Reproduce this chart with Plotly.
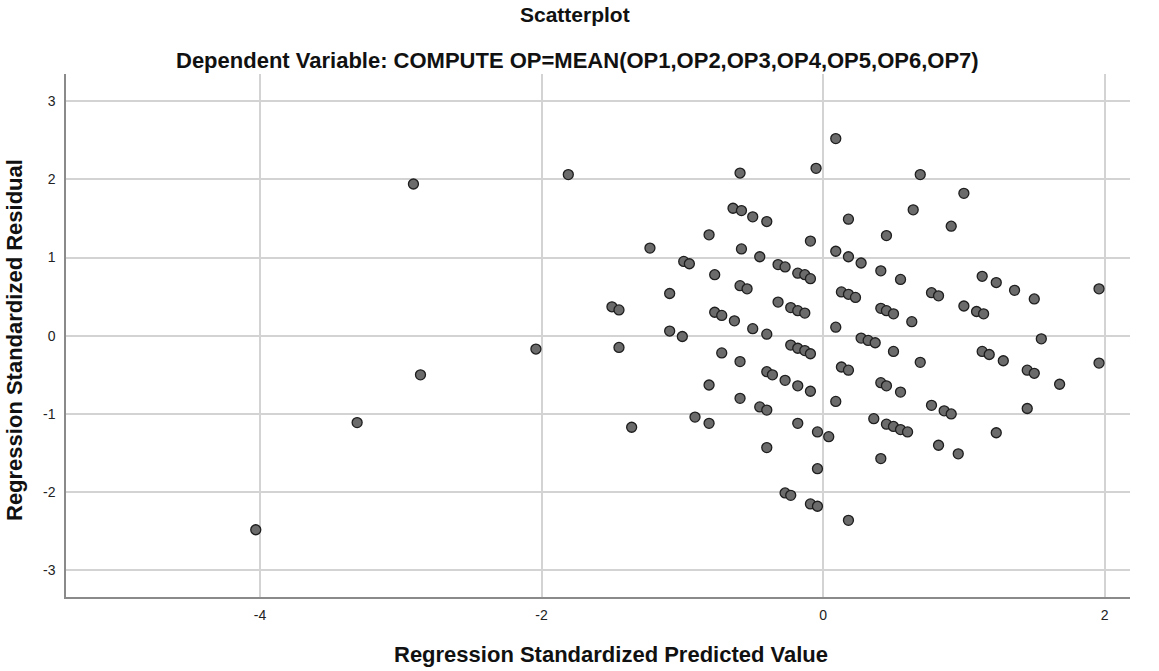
import plotly.graph_objects as go

title_main = "Scatterplot"
title_sub = "Dependent Variable: COMPUTE OP=MEAN(OP1,OP2,OP3,OP4,OP5,OP6,OP7)"
x_title = "Regression Standardized Predicted Value"
y_title = "Regression Standardized Residual"

x_ticks = [-4, -2, 0, 2]
y_ticks = [-3, -2, -1, 0, 1, 2, 3]

pred = [
    -4.03, -3.31, -2.91, -2.86, -2.04, -1.81,
    0.09, -0.05, -0.59, -0.64, -0.58, -0.50, -0.40, -0.81, -1.23, -0.58, -0.09,
    0.09, -0.45, -0.99, -0.95, -0.32, -0.27, -0.18, -0.13, -0.09, -0.77, -0.59,
    -0.54, -1.09, -1.50, -1.45, -0.32, -0.23, -0.18, -0.13, -0.77, -0.72, -0.63,
    -0.50, -0.40, -1.09, -1.00, 0.09, -1.45, -0.23, -0.18, -0.13, -0.09, -0.72,
    -0.59, -0.40, -0.36, -0.27, -0.18, -0.09, -0.81, -0.59, -0.45, -0.40, -0.91,
    -0.81, -0.18, -0.04, 0.04, -1.36, -0.40, -0.04, -0.27, -0.23, -0.09, -0.04,
    0.69, 1.00, 0.64, 0.18, 0.91, 0.45, 0.18, 0.27, 0.41, 0.55, 0.13, 0.18, 0.23,
    0.41, 0.45, 0.50, 0.63, 0.77, 0.82, 1.13, 1.23, 1.36, 1.50, 1.96, 1.00, 1.09,
    1.14, 0.27, 0.32, 0.37, 0.50, 1.13, 1.18, 1.28, 1.55, 0.69, 1.96,
    0.13, 0.18, 0.41, 0.45, 0.55, 0.09, 0.77, 0.86, 0.91, 1.45, 1.50, 1.68, 1.45,
    0.36, 0.45, 0.50, 0.55, 0.60, 1.23, 0.82, 0.96, 0.41, 0.18,
]
resid = [
    -2.48, -1.11, 1.94, -0.50, -0.17, 2.06,
    2.52, 2.14, 2.08, 1.63, 1.60, 1.52, 1.46, 1.29, 1.12, 1.11, 1.21,
    1.08, 1.01, 0.95, 0.92, 0.91, 0.88, 0.80, 0.78, 0.73, 0.78, 0.64,
    0.60, 0.54, 0.37, 0.33, 0.43, 0.36, 0.32, 0.29, 0.30, 0.26, 0.19,
    0.09, 0.02, 0.06, -0.01, 0.11, -0.15, -0.12, -0.16, -0.19, -0.23, -0.22,
    -0.33, -0.46, -0.50, -0.57, -0.64, -0.71, -0.63, -0.80, -0.91, -0.95, -1.04,
    -1.12, -1.12, -1.23, -1.29, -1.17, -1.43, -1.70, -2.01, -2.04, -2.15, -2.18,
    2.06, 1.82, 1.61, 1.49, 1.40, 1.28, 1.01, 0.93, 0.83, 0.72, 0.56, 0.53, 0.49,
    0.35, 0.32, 0.28, 0.18, 0.55, 0.51, 0.76, 0.68, 0.58, 0.47, 0.60, 0.38, 0.31,
    0.28, -0.03, -0.06, -0.09, -0.20, -0.20, -0.24, -0.32, -0.04, -0.34, -0.35,
    -0.40, -0.44, -0.60, -0.64, -0.72, -0.84, -0.89, -0.96, -1.00, -0.44, -0.48, -0.62, -0.93,
    -1.06, -1.13, -1.16, -1.20, -1.23, -1.24, -1.40, -1.51, -1.57, -2.36,
]

fig = go.Figure()
fig.add_trace(go.Scatter(
    x=pred, y=resid, mode="markers",
    marker=dict(size=10, color="#6b6b6b", line=dict(color="#1e1e1e", width=1.3)),
    showlegend=False, hoverinfo="x+y",
))

grid = "#d3d3d3"
font_family = "Liberation Sans, Arial, sans-serif"

fig.update_layout(
    width=1159, height=671,
    margin=dict(l=66, r=29, t=74, b=74),
    paper_bgcolor="white", plot_bgcolor="white",
    font=dict(family=font_family, color="#222222", size=14),
    xaxis=dict(
        range=[-5.378, 2.18], tickvals=x_ticks, ticktext=[str(v) for v in x_ticks],
        showgrid=True, gridcolor=grid, gridwidth=1.5, zeroline=False,
        showline=True, linecolor="#8a8a8a", linewidth=1.5,
        ticks="", tickfont=dict(size=14, color="#222222"), ticklabelstandoff=4,
    ),
    yaxis=dict(
        range=[-3.34, 3.346], tickvals=y_ticks, ticktext=[str(v) for v in y_ticks],
        showgrid=True, gridcolor=grid, gridwidth=1.5, zeroline=False,
        showline=True, linecolor="#8a8a8a", linewidth=1.5,
        ticks="", tickfont=dict(size=14, color="#222222"), ticklabelstandoff=6,
    ),
)

plot_h = 671 - 74 - 74
plot_w = 1159 - 66 - 29
def py(pix):
    return (671 - 74 - pix) / plot_h
def px(pix):
    return (pix - 66) / plot_w

fig.update_layout(annotations=[
    dict(text="<b>" + title_main + "</b>", x=px(575), y=py(15), xref="paper", yref="paper",
         xanchor="center", yanchor="middle", showarrow=False,
         font=dict(size=21, color="#111111")),
    dict(text="<b>" + title_sub + "</b>", x=px(577), y=py(60), xref="paper", yref="paper",
         xanchor="center", yanchor="middle", showarrow=False,
         font=dict(size=22, color="#111111")),
    dict(text="<b>" + x_title + "</b>", x=px(611), y=py(654), xref="paper", yref="paper",
         xanchor="center", yanchor="middle", showarrow=False,
         font=dict(size=22, color="#111111")),
    dict(text="<b>" + y_title + "</b>", x=px(15), y=py(340), xref="paper", yref="paper",
         xanchor="center", yanchor="middle", textangle=-90, showarrow=False,
         font=dict(size=22, color="#111111")),
])

fig.write_html("out.html")
